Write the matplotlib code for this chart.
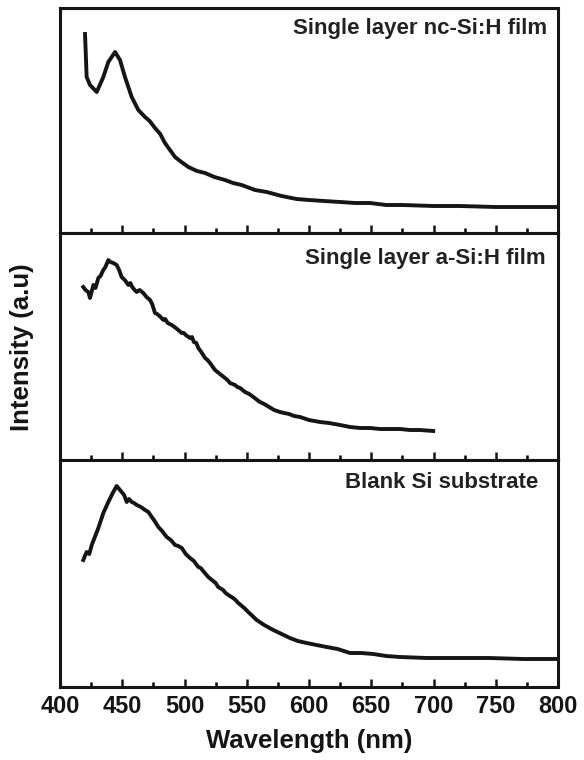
import numpy as np
import matplotlib
matplotlib.use('Agg')
import matplotlib.pyplot as plt
from matplotlib.ticker import MultipleLocator

plt.rcParams['font.family'] = ['Liberation Sans', 'DejaVu Sans']
plt.rcParams['font.weight'] = 'bold'

# PL spectra (intensity in arbitrary units)
wl_nc = [420.1, 421.4, 424.1, 429.5, 434.8, 438.8, 441.5, 444.2, 448.2, 452.2,
         457.6, 462.9, 468.3, 472.0, 476.3, 480.5, 484.3, 492.4, 497.5, 503.1,
         510.0, 516.5, 524.0, 532.5, 539.0, 545.9, 556.6, 566.0, 578.0, 590.0,
         600.0, 612.0, 625.0, 637.0, 649.0, 662.0, 675.0, 700.0, 721.0, 750.0,
         775.0, 800.0]
int_nc = [199, 156, 148, 141, 156, 171, 176, 181, 173, 156,
          136, 123, 116, 112, 105, 99, 90, 76, 71, 66,
          62, 60, 56, 53, 50, 48, 43, 41, 37, 34,
          33, 32, 31, 30, 30, 28, 28, 27, 27, 26,
          26, 26]

wl_a = [418.7, 420.5, 422.7, 424.1, 426.8, 428.5, 430.8, 432.5, 434.8, 436.5,
        438.8, 440.5, 442.8, 445.5, 447.5, 449.5, 452.0, 454.9, 456.5, 458.0,
        460.0, 461.6, 464.0, 466.9, 469.5, 472.3, 474.0, 476.3, 478.0, 480.0,
        483.0, 484.5, 486.5, 489.7, 492.0, 494.0, 497.8, 499.5, 501.0, 504.4,
        506.0, 507.5, 509.5, 511.1, 513.5, 516.5, 518.5, 520.5, 524.5, 526.5,
        528.5, 532.5, 534.5, 536.5, 540.6, 542.5, 544.6, 548.6, 552.0, 555.3,
        560.6, 564.0, 568.0, 572.0, 576.7, 580.0, 584.0, 588.0, 592.8, 600.0,
        608.8, 616.0, 624.9, 633.0, 641.0, 649.0, 657.0, 665.0, 673.1, 681.0,
        689.2, 699.8]
int_a = [173, 170, 168, 162, 175, 172, 182, 184, 190, 193,
         200, 198, 197, 195, 190, 183, 180, 175, 177, 173,
         170, 168, 170, 167, 163, 160, 156, 147, 146, 144,
         140, 141, 137, 135, 133, 131, 127, 127, 125, 122,
         123, 118, 117, 112, 108, 102, 100, 97, 90, 88,
         86, 82, 80, 77, 75, 73, 72, 68, 66, 63,
         58, 56, 53, 50, 48, 47, 46, 44, 43, 40,
         38, 37, 35, 33, 32, 32, 31, 31, 31, 30,
         30, 29]

wl_bl = [418.7, 420.0, 421.4, 423.5, 425.5, 428.0, 430.8, 434.8, 438.8, 442.8,
         445.5, 447.5, 449.5, 451.5, 453.6, 455.5, 457.6, 459.5, 461.6, 465.0,
         468.3, 471.0, 473.7, 476.0, 479.0, 482.0, 485.7, 489.0, 492.4, 495.0,
         497.8, 501.0, 504.4, 507.5, 511.1, 513.0, 515.0, 517.0, 519.1, 523.0,
         525.0, 527.1, 531.0, 533.0, 535.2, 539.0, 541.0, 543.2, 548.0, 551.2,
         558.0, 564.0, 571.3, 578.0, 584.7, 591.0, 598.1, 606.0, 614.2, 623.0,
         632.9, 642.0, 651.6, 662.0, 673.1, 694.5, 720.0, 745.0, 772.0, 800.0]
int_bl = [127, 131, 135, 133, 142, 150, 159, 174, 185, 195,
          201, 198, 195, 192, 185, 188, 185, 184, 182, 180,
          177, 175, 170, 166, 160, 156, 150, 147, 142, 141,
          139, 133, 129, 126, 120, 119, 116, 113, 110, 106,
          104, 100, 97, 94, 92, 89, 87, 84, 79, 75,
          67, 62, 57, 53, 49, 46, 44, 42, 40, 38,
          34, 34, 33, 31, 30, 29, 29, 29, 28, 28]

panels = [
    (wl_nc, int_nc, 'Single layer nc-Si:H film', 225, 0.978, 0.955),
    (wl_a, int_a, 'Single layer a-Si:H film', 227, 0.976, 0.935),
    (wl_bl, int_bl, 'Blank Si substrate', 227, 0.960, 0.945),
]

fig = plt.figure(figsize=(5.84, 7.6), dpi=100)
left, width = 60 / 584, 498 / 584
bottoms = [1 - 233 / 760, 1 - 460 / 760, 1 - 687 / 760]
heights = [225 / 760, 227 / 760, 227 / 760]

ink = '#151515'
axes = []
for i, (wl, inten, label, ymax, tx, ty) in enumerate(panels):
    ax = fig.add_axes([left, bottoms[i], width, heights[i]])
    ax.plot(wl, inten, color=ink, linewidth=2.8, solid_joinstyle='round')
    ax.set_xlim(400, 800)
    ax.set_ylim(0, ymax)
    ax.xaxis.set_major_locator(MultipleLocator(50))
    ax.xaxis.set_minor_locator(MultipleLocator(25))
    ax.tick_params(axis='x', which='major', direction='in', length=6, width=1.8,
                   top=False, labelsize=17, pad=6, colors=ink)
    ax.tick_params(axis='x', which='minor', direction='in', length=3.5, width=1.8,
                   top=False)
    ax.set_yticks([])
    for sp in ax.spines.values():
        sp.set_linewidth(2.2)
        sp.set_color(ink)
    ax.text(tx, ty, label, transform=ax.transAxes, ha='right', va='top',
            fontsize=16, fontweight='bold', color='#222222')
    if i < 2:
        ax.tick_params(axis='x', labelbottom=False)
    axes.append(ax)

for lab in axes[-1].get_xticklabels():
    lab.set_fontweight('bold')
axes[-1].set_xlabel('Wavelength (nm)', fontsize=18.5, fontweight='bold',
                    color=ink, labelpad=8)
fig.text(22 / 584, 1 - 347 / 760, 'Intensity (a.u)', rotation=90, ha='center',
         va='center', fontsize=18.5, fontweight='bold', color=ink)

fig.savefig('out.png', dpi=100)
plt.close(fig)
